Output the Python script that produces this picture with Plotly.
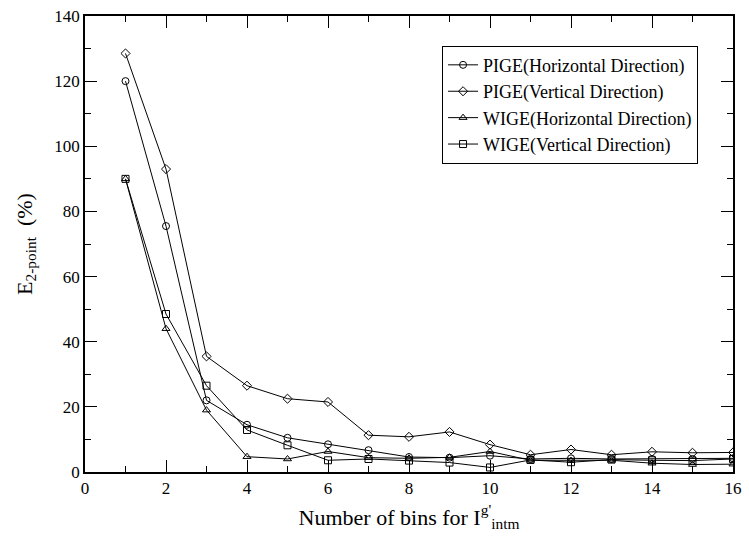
import plotly.graph_objects as go

bins = list(range(1, 17))
pige_h = [120, 75.5, 22, 14.5, 10.5, 8.5, 6.7, 4.6, 4.4, 5.0, 4.0, 4.2, 4.0, 4.0, 4.0, 4.2]
pige_v = [128.5, 93, 35.5, 26.5, 22.5, 21.5, 11.3, 10.8, 12.3, 8.4, 5.3, 6.9, 5.3, 6.2, 5.9, 6.0]
wige_h = [90, 44, 19, 4.7, 4.0, 6.3, 4.4, 4.2, 4.5, 6.3, 3.6, 3.5, 3.6, 2.7, 2.3, 2.4]
wige_v = [90, 48.5, 26.5, 12.9, 8.2, 3.6, 4.0, 3.5, 2.9, 1.4, 3.7, 3.0, 3.8, 3.6, 3.5, 4.0]

series = [
    ("PIGE(Horizontal Direction)", pige_h, "circle-open"),
    ("PIGE(Vertical Direction)", pige_v, "diamond-open"),
    ("WIGE(Horizontal Direction)", wige_h, "triangle-up-open"),
    ("WIGE(Vertical Direction)", wige_v, "square-open"),
]

fig = go.Figure()
for name, vals, sym in series:
    fig.add_trace(go.Scatter(
        x=bins, y=vals, name=name, mode="lines+markers",
        line=dict(color="black", width=1),
        marker=dict(symbol=sym, size=7, color="black", line=dict(width=1, color="black")),
    ))

font = "Times New Roman, Liberation Serif, serif"
fig.update_layout(
    width=749, height=541,
    margin=dict(l=85, r=7, t=13, b=69),
    paper_bgcolor="white", plot_bgcolor="white",
    font=dict(family=font, size=17, color="black"),
    showlegend=True,
    legend=dict(x=0.551, y=0.935, xanchor="left", yanchor="top",
                bgcolor="white", bordercolor="black", borderwidth=1,
                font=dict(family=font, size=18), tracegroupgap=0,
                itemwidth=30),
)
fig.update_xaxes(
    range=[0, 16], dtick=2, tick0=0,
    ticks="inside", ticklen=12, tickwidth=1, tickcolor="black",
    minor=dict(dtick=1, ticks="inside", ticklen=6, tickcolor="black"),
    showline=True, linecolor="black", linewidth=1.5, mirror="ticks",
    showgrid=False, zeroline=False,
    tickfont=dict(family=font, size=17),
    title=dict(text="Number of bins for I<sup>g'</sup><sub>intm</sub>", font=dict(family=font, size=22), standoff=12),
)
fig.update_yaxes(
    range=[0, 140], dtick=20, tick0=0,
    ticks="inside", ticklen=12, tickwidth=1, tickcolor="black",
    minor=dict(dtick=10, ticks="inside", ticklen=6, tickcolor="black"),
    showline=True, linecolor="black", linewidth=1.5, mirror="ticks",
    showgrid=False, zeroline=False,
    tickfont=dict(family=font, size=17),
    title=dict(text="E<sub>2-point</sub>  (%)", font=dict(family=font, size=22), standoff=16),
)

fig.write_html("out.html")
